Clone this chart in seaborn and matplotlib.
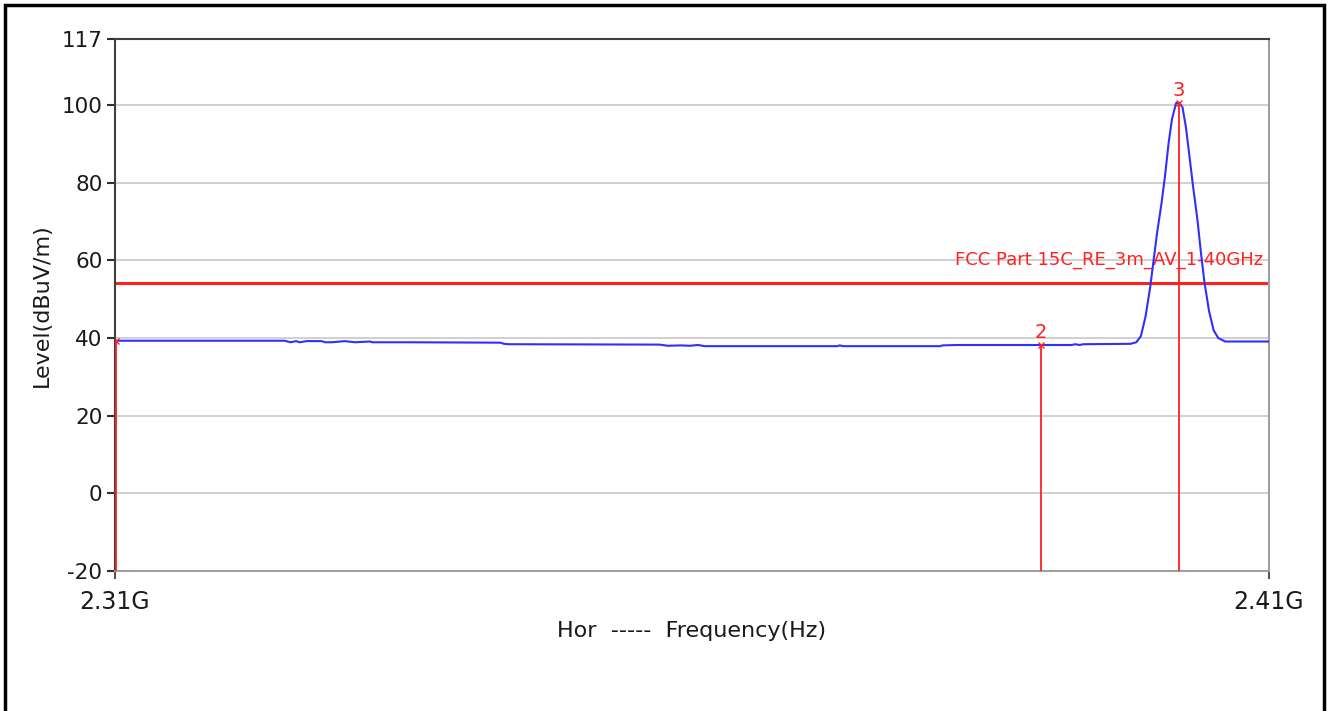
import numpy as np
import pandas as pd
import seaborn as sns
import matplotlib.pyplot as plt
from matplotlib.patches import Rectangle
from matplotlib.ticker import FixedLocator, FixedFormatter

# trace (frequency in MHz, level in dBuV/m)
freq_mhz = [2310.0, 2317.4, 2324.7, 2325.2, 2325.7, 2326.0, 2326.6, 2327.9, 2328.2,
            2328.8, 2329.9, 2330.8, 2332.1, 2332.3, 2335.6, 2343.4, 2343.7, 2344.1,
            2357.2, 2357.9, 2359.0, 2359.8, 2360.5, 2361.1, 2372.6, 2372.8, 2373.1,
            2381.5, 2381.7, 2383.0, 2386.7, 2390.2, 2392.9, 2393.2, 2393.6, 2393.9,
            2398.0, 2398.5, 2398.9, 2399.3, 2399.7, 2400.0, 2400.3, 2400.7, 2401.0,
            2401.3, 2401.6, 2401.95, 2402.2, 2402.5, 2402.8, 2403.1, 2403.4, 2403.8,
            2404.1, 2404.4, 2404.8, 2405.2, 2405.6, 2406.2, 2410.0]
level = [39.3, 39.3, 39.3, 38.9, 39.2, 38.9, 39.2, 39.2, 38.9,
         38.9, 39.2, 38.9, 39.1, 38.9, 38.9, 38.8, 38.5, 38.4,
         38.3, 38.0, 38.1, 38.0, 38.2, 37.9, 37.9, 38.1, 37.9,
         37.9, 38.1, 38.2, 38.2, 38.2, 38.2, 38.4, 38.2, 38.4,
         38.5, 38.9, 40.5, 45.5, 53.0, 60.0, 67.0, 75.0, 82.0,
         90.2, 96.5, 100.5, 100.6, 99.5, 94.3, 87.0, 79.5, 70.4,
         62.0, 54.5, 47.0, 42.0, 40.0, 39.1, 39.1]

# markers
marker_ids = ["1", "2", "3"]
marker_freq = [2310.1, 2390.2, 2402.2]
marker_level = [39.3, 38.2, 100.6]

limit_level = 54.2
limit_name = "FCC Part 15C_RE_3m_AV_1-40GHz"

y_ticks = [117, 100, 80, 60, 40, 20, 0, -20]
x_ticks = [2310.0, 2410.0]
x_tick_labels = ["2.31G", "2.41G"]

df = pd.DataFrame({"freq": freq_mhz, "level": level})

sns.set_theme(style="white")
plt.rcParams["font.family"] = ["DejaVu Sans"]

fig = plt.figure(figsize=(13.28, 7.11), dpi=100)
ax = fig.add_axes([115 / 1328, 1 - 571 / 711, (1269 - 115) / 1328, (571 - 39) / 711])

ax.set_xlim(2310, 2410)
ax.set_ylim(-20, 117)

# grid
for t in y_ticks[1:-1]:
    ax.axhline(t, color="#c8c8c8", lw=1.2, zorder=0)

# limit line
ax.axhline(limit_level, color="#ff2020", lw=2.2, zorder=2)
ax.text(2409.5, limit_level + 6.0, limit_name, color="#ff2020", fontsize=13,
        ha="right", va="center", zorder=3)

sns.lineplot(data=df, x="freq", y="level", color="#2f2fff", lw=1.5, ax=ax,
             zorder=4, estimator=None, sort=False)

# marker lines
for mid, mf, ml in zip(marker_ids, marker_freq, marker_level):
    ax.vlines(mf, -20, ml, color="#ff2020", lw=1.3, zorder=5)
    ax.plot(mf, ml, marker="x", color="#ff2020", ms=5, mew=1, zorder=6)
    if mid != "1":
        ax.text(mf, ml + 0.8, mid, color="#ff2020", fontsize=14, ha="center", va="bottom", zorder=6)

# spines
for side in ["left", "top"]:
    ax.spines[side].set_color("#404040")
    ax.spines[side].set_linewidth(1.5)
for side in ["right", "bottom"]:
    ax.spines[side].set_color("#a0a0a0")
    ax.spines[side].set_linewidth(1.5)

ax.yaxis.set_major_locator(FixedLocator(y_ticks))
ax.set_yticklabels([str(t) for t in y_ticks])
ax.xaxis.set_major_locator(FixedLocator(x_ticks))
ax.xaxis.set_major_formatter(FixedFormatter(x_tick_labels))
ax.tick_params(axis="y", left=True, length=6, width=1.5, color="#303030", pad=3,
               labelsize=15.5, labelcolor="#1a1a1a")
ax.tick_params(axis="x", bottom=True, length=6, width=1.2, color="#303030", pad=8,
               labelsize=17, labelcolor="#1a1a1a")

ax.set_xlabel("Hor  -----  Frequency(Hz)", fontsize=16, color="#1a1a1a", labelpad=5)
ax.set_ylabel("Level(dBuV/m)", fontsize=16, color="#1a1a1a", labelpad=7)

# outer frame
fig.patches.append(Rectangle((5 / 1328, -0.1), (1324 - 5) / 1328, 1.1 - 5 / 711,
                             transform=fig.transFigure, fill=False, ec="black",
                             lw=2.5, clip_on=False))

fig.savefig("out.png", dpi=100)
